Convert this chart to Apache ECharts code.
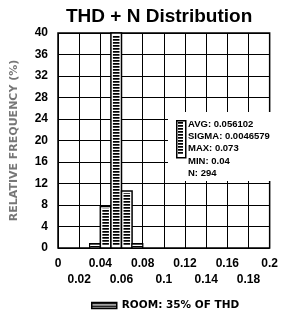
<!DOCTYPE html>
<html>
<head>
<meta charset="utf-8">
<script src="https://cdn.jsdelivr.net/npm/echarts@6/dist/echarts.min.js"></script>
<style>html,body{margin:0;padding:0;background:#fff;}#c{width:281px;height:312px;}</style>
</head>
<body>
<div id="c"></div>
<script>
// Data
var binStarts = [0.03, 0.04, 0.05, 0.06, 0.07];
var binWidth = 0.01;
var frequencies = [0.8, 7.7, 40, 10.6, 0.8];
var xTicks = [0, 0.02, 0.04, 0.06, 0.08, 0.1, 0.12, 0.14, 0.16, 0.18, 0.2];
var yTicks = [0, 4, 8, 12, 16, 20, 24, 28, 32, 36, 40];
var statsLines = ['AVG: 0.056102', 'SIGMA: 0.0046579', 'MAX: 0.073', 'MIN: 0.04', 'N: 294'];
var seriesName = 'ROOM: 35% OF THD';
var titleText = 'THD + N Distribution';
var yName = 'RELATIVE FREQUENCY (%)';

function makePattern() {
  var cv = document.createElement('canvas');
  cv.width = 4; cv.height = 3;
  var ctx = cv.getContext('2d');
  ctx.fillStyle = '#fff'; ctx.fillRect(0, 0, 4, 3);
  ctx.fillStyle = '#000'; ctx.fillRect(0, 0, 4, 1);
  ctx.fillStyle = '#444'; ctx.fillRect(0, 1, 4, 1);
  return {image: cv, repeat: 'repeat'};
}
var pattern = makePattern();

var histData = binStarts.map(function (s, i) { return [s, s + binWidth, frequencies[i]]; });

var chart = echarts.init(document.getElementById('c'), null, {renderer: 'canvas'});

chart.setOption({
  animation: false,
  title: {
    text: titleText, left: 61, top: 2,
    textStyle: {fontFamily: 'Liberation Sans', fontWeight: 'bold', fontSize: 19, color: '#000'}
  },
  legend: {
    left: 86, top: 295, itemWidth: 25, itemHeight: 6, itemGap: 6,
    data: [{name: seriesName, icon: 'rect', itemStyle: {color: pattern, borderColor: '#000', borderWidth: 1.5}}],
    textStyle: {fontFamily: 'DejaVu Sans', fontWeight: 'bold', fontSize: 10.5, color: '#000'}
  },
  grid: {left: 58, right: 6, top: 33, bottom: 64, show: true, borderColor: '#000', borderWidth: 1.5, backgroundColor: 'transparent'},
  xAxis: {
    type: 'value', min: xTicks[0], max: xTicks[xTicks.length - 1], interval: 0.02,
    axisLine: {show: false}, axisTick: {show: false},
    splitLine: {show: true, lineStyle: {color: '#000', width: 1}},
    axisLabel: {
      margin: 8, fontSize: 12, lineHeight: 16, fontFamily: 'Liberation Sans', fontWeight: 'bold', color: '#000',
      showMaxLabel: true, showMinLabel: true,
      formatter: function (v) {
        var idx = Math.round(v / 0.02);
        var s = String(parseFloat(v.toFixed(2)));
        return idx % 2 === 1 ? '\n' + s : s;
      }
    }
  },
  yAxis: {
    type: 'value', min: yTicks[0], max: yTicks[yTicks.length - 1], interval: 4,
    name: yName, nameLocation: 'middle', nameRotate: 90, nameGap: 38,
    nameTextStyle: {fontFamily: 'DejaVu Sans', fontWeight: 'bold', fontSize: 11, color: '#777'},
    axisLine: {show: false}, axisTick: {show: false},
    splitLine: {show: true, lineStyle: {color: '#000', width: 1}},
    axisLabel: {margin: 10, fontSize: 12, fontFamily: 'Liberation Sans', fontWeight: 'bold', color: '#000'}
  },
  series: [{
    name: seriesName,
    type: 'custom',
    data: histData,
    encode: {x: [0, 1], y: 2},
    renderItem: function (params, api) {
      var p0 = api.coord([api.value(0), api.value(2)]);
      var p1 = api.coord([api.value(1), 0]);
      var x = p0[0], y = p0[1], w = p1[0] - p0[0], h = p1[1] - p0[1];
      var inset = h > 6 ? 2 : 0.5;
      return {
        type: 'group',
        children: [
          {type: 'rect', shape: {x: x, y: y, width: w, height: h},
            style: {fill: '#fff', stroke: '#000', lineWidth: 1.5}},
          {type: 'rect', shape: {x: x + inset, y: y + inset, width: w - 2 * inset, height: Math.max(h - 2 * inset, 0)},
            style: {fill: pattern}}
        ]
      };
    },
    itemStyle: {color: pattern, borderColor: '#000'}
  }],
  graphic: [
    {type: 'rect', left: 168, top: 112, shape: {width: 106, height: 69}, style: {fill: '#fff'}, z: 10},
    {type: 'rect', left: 176, top: 120, shape: {width: 9, height: 37}, style: {fill: '#fff', stroke: '#000', lineWidth: 1.5}, z: 11},
    {type: 'rect', left: 178, top: 122, shape: {width: 5, height: 33}, style: {fill: pattern}, z: 12}
  ].concat(statsLines.map(function (t, i) {
    return {type: 'text', left: 188, top: 119 + i * 12.3, z: 12,
      style: {text: t, fontFamily: 'Liberation Sans', fontWeight: 'bold', fontSize: 9.5, fill: '#000'}};
  }))
});
</script>
</body>
</html>
